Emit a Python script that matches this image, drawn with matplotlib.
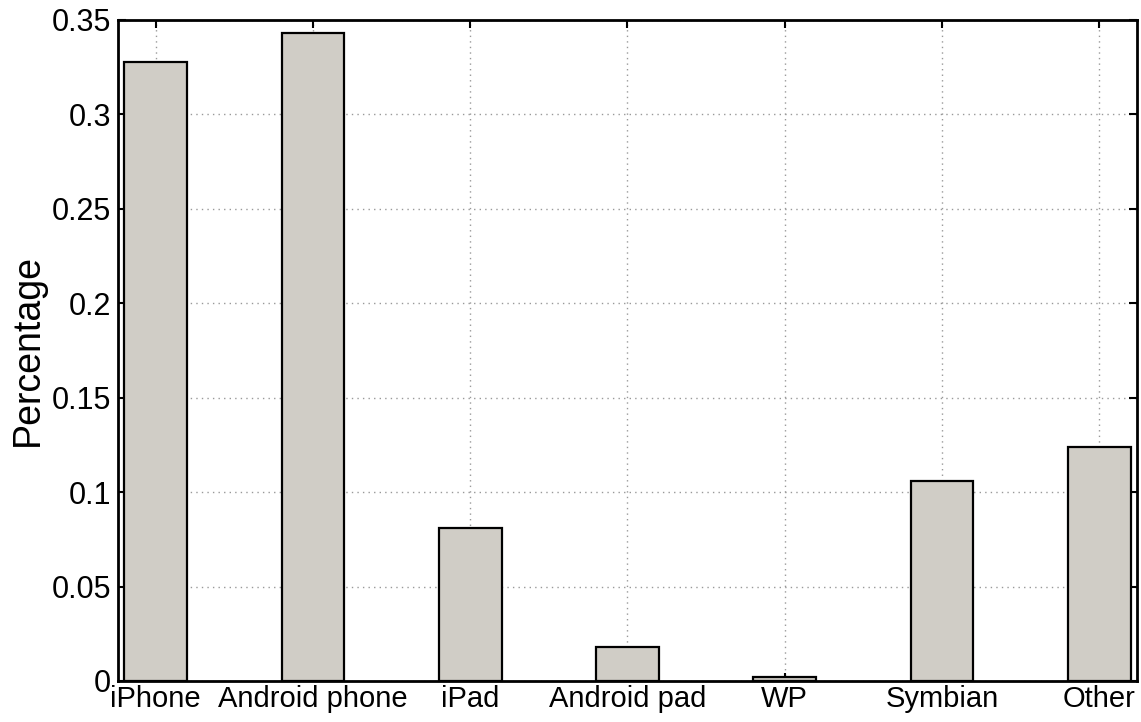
import matplotlib
matplotlib.use("Agg")
import matplotlib.pyplot as plt

# platform share
categories = ["iPhone", "Android phone", "iPad", "Android pad", "WP", "Symbian", "Other"]
values = [0.328, 0.343, 0.081, 0.018, 0.002, 0.106, 0.124]
yticks = [0, 0.05, 0.1, 0.15, 0.2, 0.25, 0.3, 0.35]
ytick_labels = ["0", "0.05", "0.1", "0.15", "0.2", "0.25", "0.3", "0.35"]

plt.rcParams["font.family"] = ["Liberation Sans", "DejaVu Sans"]

fig = plt.figure(figsize=(11.41, 7.22), dpi=100)
ax = fig.add_axes([0.1034, 0.0568, 0.8931, 0.9155])

x = list(range(1, len(categories) + 1))
ax.bar(x, values, width=0.4, color="#d0cdc6", edgecolor="black", linewidth=1.6, zorder=3)

ax.set_xlim(0.76, 7.24)
ax.set_ylim(0, 0.35)
ax.set_xticks(x)
ax.set_xticklabels(categories, fontsize=21)
ax.set_yticks(yticks)
ax.set_yticklabels(ytick_labels, fontsize=22)
ax.set_ylabel("Percentage", fontsize=27, labelpad=4)

ax.grid(True, linestyle=(0, (1, 3)), color="#999999", linewidth=1.0, zorder=0)
ax.tick_params(direction="in", top=True, right=True, length=6, width=1.5)
ax.tick_params(axis="x", pad=3)
ax.tick_params(axis="y", pad=5)
for s in ax.spines.values():
    s.set_linewidth(2)
    s.set_zorder(4)

fig.savefig("out.png", dpi=100)
